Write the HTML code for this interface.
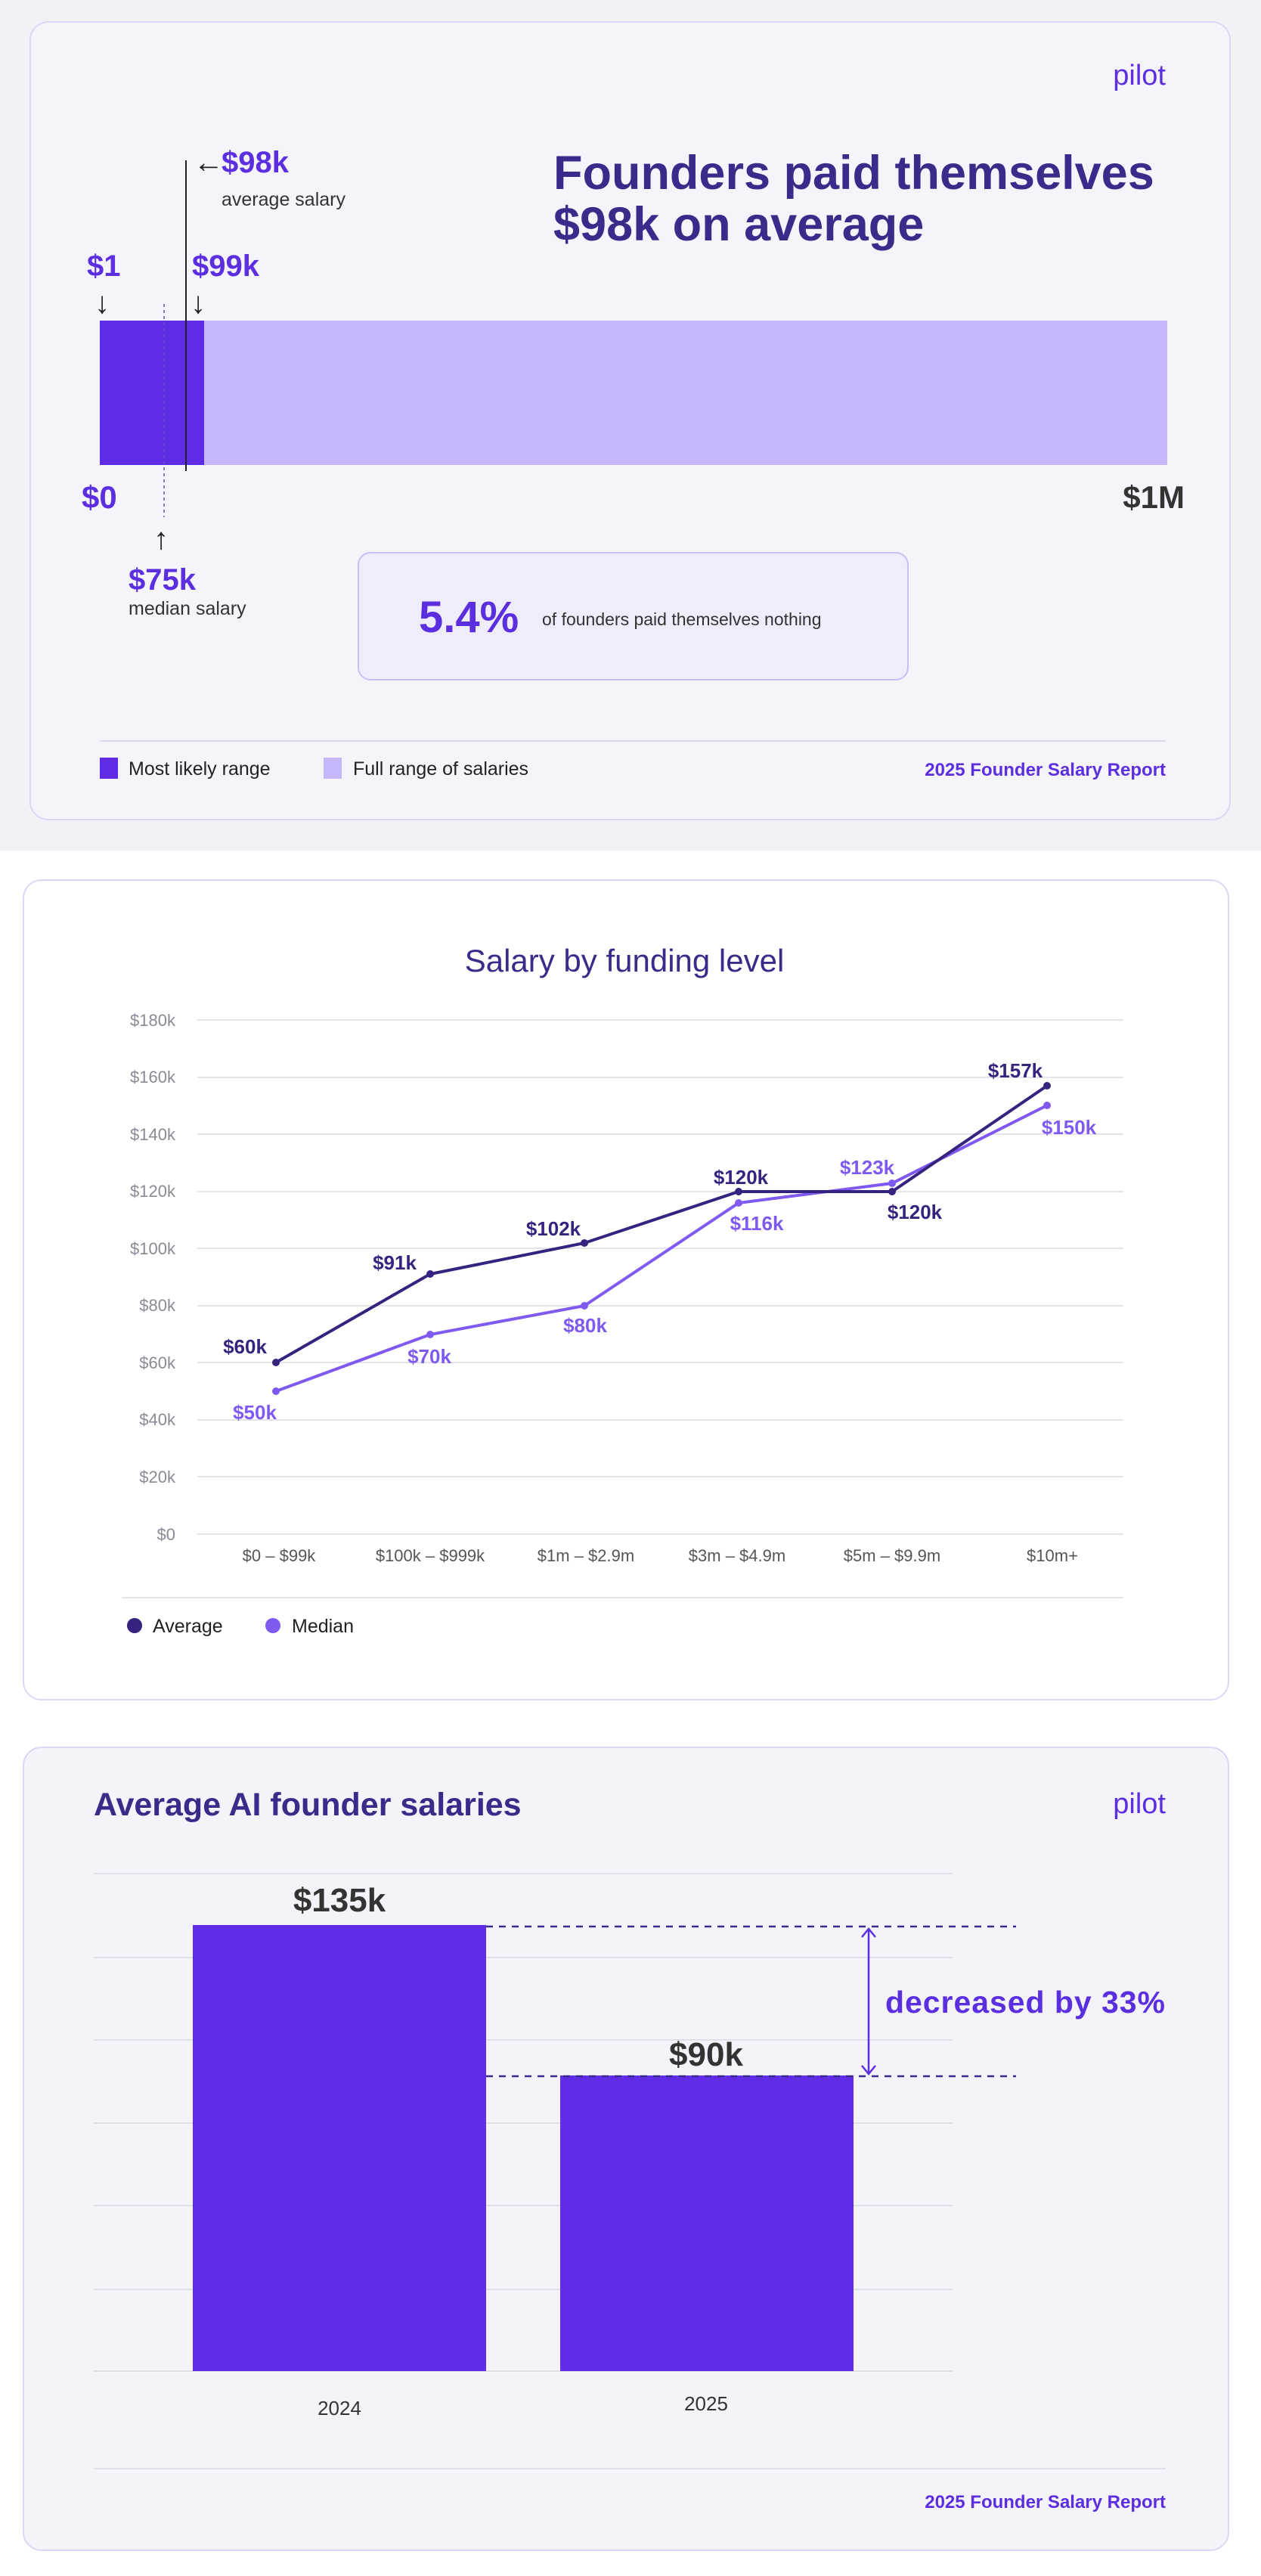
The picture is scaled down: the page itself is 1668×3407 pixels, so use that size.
<!DOCTYPE html>
<html><head><meta charset="utf-8"><style>
html,body{margin:0;padding:0;background:#fff;}
svg{display:block;font-family:"Liberation Sans",sans-serif;}
</style></head><body>
<svg width="1668" height="3407" viewBox="0 0 1668 3407" xmlns="http://www.w3.org/2000/svg">
<rect x="0" y="0" width="1668" height="1125" fill="#f1f1f6"/>
<!-- Card 1 -->
<rect x="40" y="29" width="1587" height="1055" rx="24" fill="#f4f4fa" stroke="#dcd7f5" stroke-width="2"/>
<text x="1542" y="112" text-anchor="end" font-size="38" fill="#5b2fe0">pilot</text>
<text x="732" y="250" font-size="63" font-weight="bold" fill="#3b2a8a">Founders paid themselves</text>
<text x="732" y="318" font-size="63" font-weight="bold" fill="#3b2a8a">$98k on average</text>
<rect x="132" y="424" width="1412" height="191" fill="#c6b6fa"/>
<rect x="132" y="424" width="138" height="191" fill="#5e2ce6"/>
<line x1="246" y1="212" x2="246" y2="623" stroke="#222" stroke-width="2"/>
<line x1="217" y1="402" x2="217" y2="684" stroke="#6a55b5" stroke-width="1.5" stroke-dasharray="4,4"/>
<text x="256" y="228" font-size="40" fill="#222">←</text>
<text x="293" y="228" font-size="40" font-weight="bold" fill="#5b2fe0">$98k</text>
<text x="293" y="272" font-size="25" fill="#333">average salary</text>
<text x="115" y="365" font-size="40" font-weight="bold" fill="#5b2fe0">$1</text>
<text x="125" y="414" font-size="40" fill="#222">↓</text>
<text x="254" y="365" font-size="40" font-weight="bold" fill="#5b2fe0">$99k</text>
<text x="252" y="414" font-size="40" fill="#222">↓</text>
<text x="108" y="672" font-size="42" font-weight="bold" fill="#5b2fe0">$0</text>
<text x="1567" y="672" text-anchor="end" font-size="42" font-weight="bold" fill="#333">$1M</text>
<text x="203" y="726" font-size="40" fill="#222">↑</text>
<text x="170" y="780" font-size="40" font-weight="bold" fill="#5b2fe0">$75k</text>
<text x="170" y="813" font-size="25" fill="#333">median salary</text>
<rect x="474" y="731" width="727" height="168" rx="16" fill="#efecfb" stroke="#c9bff5" stroke-width="2"/>
<text x="554" y="836" font-size="58" font-weight="bold" fill="#5b2fe0">5.4%</text>
<text x="717" y="827" font-size="23" fill="#333">of founders paid themselves nothing</text>
<line x1="132" y1="980" x2="1542" y2="980" stroke="#dcd9ea" stroke-width="2"/>
<rect x="132" y="1002" width="24" height="28" fill="#5e2ce6"/>
<text x="170" y="1025" font-size="25" fill="#222">Most likely range</text>
<rect x="428" y="1002" width="24" height="28" fill="#c6b6fa"/>
<text x="467" y="1025" font-size="25" fill="#222">Full range of salaries</text>
<text x="1542" y="1026" text-anchor="end" font-size="24" font-weight="bold" fill="#5b2fe0">2025 Founder Salary Report</text>

<!-- Card 2 -->
<rect x="31" y="1164" width="1594" height="1084" rx="24" fill="#fff" stroke="#dcd7f5" stroke-width="2"/>
<text x="826" y="1285" text-anchor="middle" font-size="42" fill="#3a2a8a">Salary by funding level</text>
<g font-size="22" fill="#8a8a95" text-anchor="end">
<text x="232" y="1357">$180k</text><text x="232" y="1432">$160k</text><text x="232" y="1508">$140k</text>
<text x="232" y="1583">$120k</text><text x="232" y="1659">$100k</text><text x="232" y="1734">$80k</text>
<text x="232" y="1810">$60k</text><text x="232" y="1885">$40k</text><text x="232" y="1961">$20k</text><text x="232" y="2037">$0</text>
</g>
<g stroke="#e4e4ea" stroke-width="2">
<line x1="261" y1="1349" x2="1486" y2="1349"/><line x1="261" y1="1425" x2="1486" y2="1425"/>
<line x1="261" y1="1500" x2="1486" y2="1500"/><line x1="261" y1="1576" x2="1486" y2="1576"/>
<line x1="261" y1="1651" x2="1486" y2="1651"/><line x1="261" y1="1727" x2="1486" y2="1727"/>
<line x1="261" y1="1802" x2="1486" y2="1802"/><line x1="261" y1="1878" x2="1486" y2="1878"/>
<line x1="261" y1="1953" x2="1486" y2="1953"/><line x1="261" y1="2029" x2="1486" y2="2029"/>
</g>
<g font-size="22" fill="#555" text-anchor="middle">
<text x="369" y="2065">$0 – $99k</text><text x="569" y="2065">$100k – $999k</text><text x="775" y="2065">$1m – $2.9m</text>
<text x="975" y="2065">$3m – $4.9m</text><text x="1180" y="2065">$5m – $9.9m</text><text x="1392" y="2065">$10m+</text>
</g>
<polyline fill="none" stroke="#7f5af0" stroke-width="4" points="365,1840 569,1765 773,1727 977,1591 1180,1565 1385,1462"/>
<polyline fill="none" stroke="#36237f" stroke-width="4" points="365,1802 569,1685 773,1644 977,1576 1180,1576 1385,1436"/>
<g fill="#7f5af0"><circle cx="365" cy="1840" r="5"/><circle cx="569" cy="1765" r="5"/><circle cx="773" cy="1727" r="5"/><circle cx="977" cy="1591" r="5"/><circle cx="1180" cy="1565" r="5"/><circle cx="1385" cy="1462" r="5"/></g>
<g fill="#36237f"><circle cx="365" cy="1802" r="5"/><circle cx="569" cy="1685" r="5"/><circle cx="773" cy="1644" r="5"/><circle cx="977" cy="1576" r="5"/><circle cx="1180" cy="1576" r="5"/><circle cx="1385" cy="1436" r="5"/></g>
<g font-size="26" font-weight="bold" fill="#36237f" text-anchor="middle">
<text x="324" y="1790">$60k</text><text x="522" y="1679">$91k</text><text x="732" y="1634">$102k</text>
<text x="980" y="1566">$120k</text><text x="1210" y="1612">$120k</text><text x="1343" y="1425">$157k</text>
</g>
<g font-size="26" font-weight="bold" fill="#7f5af0" text-anchor="middle">
<text x="337" y="1877">$50k</text><text x="568" y="1803">$70k</text><text x="774" y="1762">$80k</text>
<text x="1001" y="1627">$116k</text><text x="1147" y="1553">$123k</text><text x="1414" y="1500">$150k</text>
</g>
<line x1="161" y1="2113" x2="1486" y2="2113" stroke="#e4e4ea" stroke-width="2"/>
<circle cx="178" cy="2150" r="10" fill="#36237f"/>
<text x="202" y="2159" font-size="25" fill="#222">Average</text>
<circle cx="361" cy="2150" r="10" fill="#7f5af0"/>
<text x="386" y="2159" font-size="25" fill="#222">Median</text>

<!-- Card 3 -->
<rect x="31" y="2311" width="1594" height="1062" rx="24" fill="#f3f3f9" stroke="#dcd7f5" stroke-width="2"/>
<text x="124" y="2401" font-size="43" font-weight="bold" fill="#3a2a8a">Average AI founder salaries</text>
<text x="1542" y="2398" text-anchor="end" font-size="38" fill="#5b2fe0">pilot</text>
<g stroke="#dfdfe8" stroke-width="2">
<line x1="124" y1="2478" x2="1260" y2="2478"/><line x1="124" y1="2589" x2="1260" y2="2589"/>
<line x1="124" y1="2698" x2="1260" y2="2698"/><line x1="124" y1="2808" x2="1260" y2="2808"/>
<line x1="124" y1="2917" x2="1260" y2="2917"/><line x1="124" y1="3028" x2="1260" y2="3028"/>
<line x1="124" y1="3136" x2="1260" y2="3136"/>
</g>
<rect x="255" y="2546" width="388" height="590" fill="#5f2de5"/>
<rect x="741" y="2745" width="388" height="391" fill="#5f2de5"/>
<g stroke="#3b2a8a" stroke-width="2.5" stroke-dasharray="9,8">
<line x1="643" y1="2548" x2="1344" y2="2548"/>
<line x1="643" y1="2746" x2="1344" y2="2746"/>
</g>
<line x1="1149" y1="2552" x2="1149" y2="2742" stroke="#5b2fe0" stroke-width="2.5"/>
<polyline points="1140,2562 1149,2551 1158,2562" fill="none" stroke="#5b2fe0" stroke-width="2.5"/>
<polyline points="1140,2732 1149,2743 1158,2732" fill="none" stroke="#5b2fe0" stroke-width="2.5"/>
<text x="1171" y="2662" font-size="41" font-weight="bold" fill="#5b2fe0" textLength="370">decreased by 33%</text>
<text x="449" y="2528" text-anchor="middle" font-size="44" font-weight="bold" fill="#333">$135k</text>
<text x="934" y="2732" text-anchor="middle" font-size="44" font-weight="bold" fill="#333">$90k</text>
<text x="449" y="3194" text-anchor="middle" font-size="26" fill="#333">2024</text>
<text x="934" y="3188" text-anchor="middle" font-size="26" fill="#333">2025</text>
<line x1="124" y1="3265" x2="1542" y2="3265" stroke="#dfdfe8" stroke-width="2"/>
<text x="1542" y="3317" text-anchor="end" font-size="24" font-weight="bold" fill="#5b2fe0">2025 Founder Salary Report</text>
</svg>
</body></html>
